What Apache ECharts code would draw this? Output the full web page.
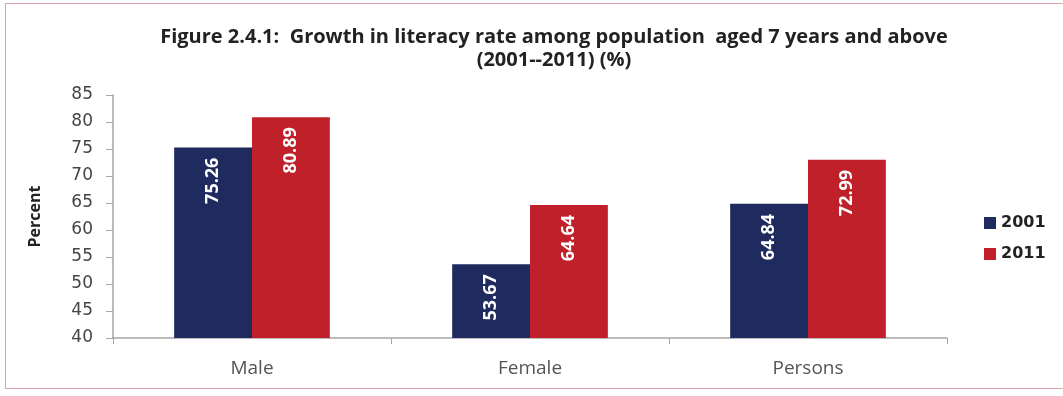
<!DOCTYPE html>
<html>
<head>
<meta charset="utf-8">
<script src="https://cdn.jsdelivr.net/npm/echarts@6/dist/echarts.min.js"></script>
<style>
  html, body { margin: 0; padding: 0; background: #fff; }
  #frame { position: absolute; left: 5px; top: 3px; width: 1070px; height: 386px; border: 1.5px solid #d9a3ab; box-sizing: border-box; }
  #chart { width: 1063px; height: 396px; }
</style>
</head>
<body>
<div id="frame"></div>
<div id="chart"></div>
<script>
const categories = ['Male', 'Female', 'Persons'];
const values2001 = [75.26, 53.67, 64.84];
const values2011 = [80.89, 64.64, 72.99];

const chart = echarts.init(document.getElementById('chart'));

// value labels sit inside the top of each bar, reading bottom-to-top
const barLabel = {
  show: true,
  position: 'insideTop',
  rotate: 90,
  align: 'right',
  verticalAlign: 'middle',
  distance: 10,
  color: '#fff',
  fontFamily: 'Open Sans',
  fontWeight: 'bold',
  fontSize: 18,
  formatter: p => p.value.toFixed(2)
};

chart.setOption({
  animation: false,
  title: {
    text: 'Figure 2.4.1:  Growth in literacy rate among population  aged 7 years and above\n(2001--2011) (%)',
    left: 549,
    top: 21,
    textAlign: 'center',
    textStyle: { fontFamily: 'Open Sans', fontWeight: 'bold', fontSize: 20, color: '#222', lineHeight: 23 }
  },
  legend: {
    orient: 'vertical',
    left: 979,
    top: 210,
    itemWidth: 12,
    itemHeight: 12,
    itemGap: 15,
    icon: 'rect',
    textStyle: { fontFamily: 'DejaVu Sans', fontWeight: 'bold', fontSize: 16, color: '#222' },
    data: ['2001', '2011']
  },
  grid: { left: 113, right: 116, top: 95, bottom: 58 },
  xAxis: {
    type: 'category',
    data: categories,
    axisLine: { lineStyle: { color: '#a6a6a6', width: 1.5 } },
    axisTick: { show: true, length: 6, lineStyle: { color: '#a6a6a6' } },
    axisLabel: { margin: 21, color: '#555', fontFamily: 'Open Sans', fontSize: 19 }
  },
  yAxis: {
    type: 'value',
    min: 40,
    max: 85,
    interval: 5,
    name: 'Percent',
    nameLocation: 'middle',
    nameGap: 70,
    nameTextStyle: { fontFamily: 'Open Sans', fontWeight: 'bold', fontSize: 16, color: '#222' },
    splitLine: { show: false },
    axisLine: { show: true, lineStyle: { color: '#a6a6a6', width: 1.5 } },
    axisTick: { show: true, length: 7, lineStyle: { color: '#a6a6a6' } },
    axisLabel: { margin: 20, color: '#444', fontFamily: 'DejaVu Sans', fontSize: 17 }
  },
  series: [
    {
      name: '2001',
      type: 'bar',
      data: values2001,
      barGap: '0%',
      barCategoryGap: '44%',
      itemStyle: { color: '#1f2a5e' },
      label: barLabel
    },
    {
      name: '2011',
      type: 'bar',
      data: values2011,
      itemStyle: { color: '#c0202a' },
      label: barLabel
    }
  ]
});
</script>
</body>
</html>
